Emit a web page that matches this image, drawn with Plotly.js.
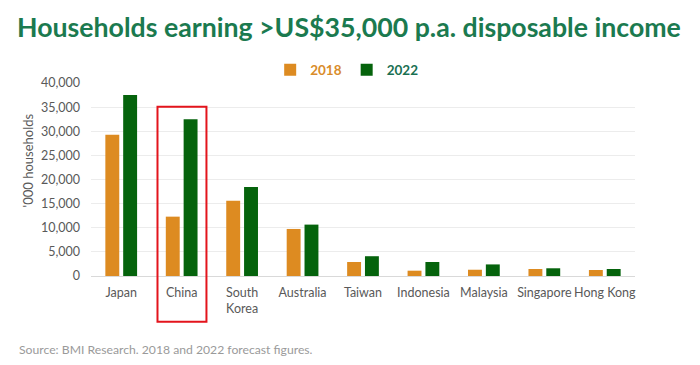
<!DOCTYPE html>
<html>
<head>
<meta charset="utf-8">
<script src="https://cdn.plot.ly/plotly-3.0.1.min.js"></script>
<style>
  html, body { margin: 0; padding: 0; background: #fff; }
  #chart { width: 700px; height: 365px; }
</style>
</head>
<body>
<div id="chart"></div>
<script>
// Data
var countries = ["Japan", "China", "South<br>Korea", "Australia", "Taiwan", "Indonesia", "Malaysia", "Singapore", "Hong Kong"];
var values2018 = [29300, 12300, 15600, 9750, 2900, 1100, 1300, 1450, 1250];
var values2022 = [37500, 32500, 18450, 10650, 4100, 2900, 2400, 1600, 1450];
var yTicks = [0, 5000, 10000, 15000, 20000, 25000, 30000, 35000, 40000];
var yTickLabels = ["0", "5,000", "10,000", "15,000", "20,000", "25,000", "30,000", "35,000", "40,000"];

var orange = "#dd8b21";
var green = "#05630c";
var fontFam = "Lato, Open Sans, sans-serif";

var traces = [
  {
    type: "bar", x: countries, y: values2018,
    name: "<b><span style='color:#d98c2a'>2018</span></b>",
    marker: { color: orange },
    hoverinfo: "skip"
  },
  {
    type: "bar", x: countries, y: values2022,
    name: "<b><span style='color:#1a7052'>2022</span></b>",
    marker: { color: green },
    hoverinfo: "skip"
  }
];

var layout = {
  width: 700, height: 365,
  margin: { l: 91, r: 65, t: 83, b: 89, pad: 0 },
  paper_bgcolor: "#ffffff", plot_bgcolor: "#ffffff",
  font: { family: fontFam, color: "#595959", size: 13 },
  title: {
    text: "<b>Households earning >US$35,000 p.a. disposable income</b>",
    font: { family: fontFam, size: 26.7, color: "#1b7a4f" },
    xref: "container", yref: "container",
    x: 17 / 700, xanchor: "left",
    y: 1 - 28 / 365, yanchor: "middle"
  },
  barmode: "group",
  bargap: 0.41,
  bargroupgap: 0.22,
  showlegend: true,
  legend: {
    orientation: "h",
    x: 0.47, xanchor: "center",
    y: 1.067, yanchor: "middle",
    font: { size: 13.5, family: fontFam },
    itemwidth: 30,
    traceorder: "normal",
    bgcolor: "rgba(0,0,0,0)"
  },
  xaxis: {
    tickfont: { size: 12.5, color: "#595959", family: fontFam },
    tickangle: 0,
    ticklabelstandoff: 7,
    showgrid: false,
    showline: false,
    ticks: "",
    fixedrange: true
  },
  yaxis: {
    range: [0, 40000],
    tickvals: yTicks,
    ticktext: yTickLabels,
    tickfont: { size: 12.5, color: "#595959", family: fontFam },
    showgrid: true,
    gridcolor: "#ececec",
    gridwidth: 1,
    zeroline: true,
    zerolinecolor: "#d9d9d9",
    zerolinewidth: 1,
    ticks: "",
    ticklabelstandoff: 10,
    fixedrange: true
  },
  shapes: [
    {
      type: "rect", xref: "x", yref: "paper",
      x0: 0.6, x1: 1.41, y0: -0.237, y1: 0.877,
      line: { color: "#e3141c", width: 2 },
      fillcolor: "rgba(0,0,0,0)",
      layer: "above"
    }
  ],
  annotations: [
    {
      text: "'000 households",
      xref: "paper", yref: "paper",
      x: -0.115, y: 0.601,
      xanchor: "center", yanchor: "middle",
      textangle: -90,
      showarrow: false,
      font: { size: 13, color: "#595959", family: fontFam }
    },
    {
      text: "Source: BMI Research. 2018 and 2022 forecast figures.",
      xref: "paper", yref: "paper",
      x: (17 - 91) / 544, y: (276 - 349) / 193,
      xanchor: "left", yanchor: "middle",
      showarrow: false,
      font: { size: 12.2, color: "#9a9a9a", family: fontFam }
    }
  ]
};

Plotly.newPlot("chart", traces, layout, { staticPlot: true, displayModeBar: false });
</script>
</body>
</html>
